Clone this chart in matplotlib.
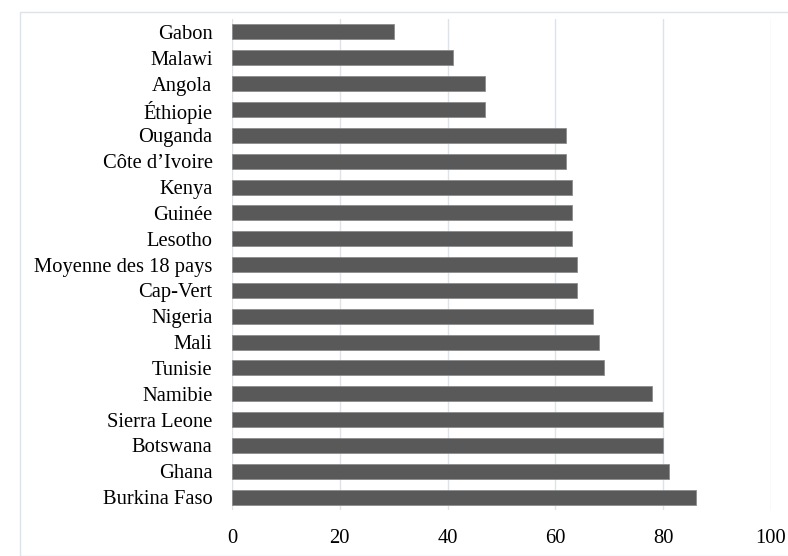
import matplotlib.pyplot as plt
from matplotlib.patches import Rectangle

pays = ["Gabon", "Malawi", "Angola", "Éthiopie", "Ouganda", "Côte d’Ivoire",
        "Kenya", "Guinée", "Lesotho", "Moyenne des 18 pays", "Cap-Vert",
        "Nigeria", "Mali", "Tunisie", "Namibie", "Sierra Leone", "Botswana",
        "Ghana", "Burkina Faso"]
valeurs = [30, 41, 47, 47, 62, 62, 63, 63, 63, 64, 64, 67, 68, 69, 78, 80, 80, 81, 86]
ticks_x = [0, 20, 40, 60, 80, 100]

plt.rcParams['font.family'] = ['Liberation Serif', 'DejaVu Serif']

fig = plt.figure(figsize=(7.88, 5.56), dpi=100)
ax = fig.add_axes([0.2944, 0.0827, 0.684, 0.883])

pos = list(range(len(pays)))
ax.barh(pos, valeurs, height=0.58, color='#595959', edgecolor='#8c8c8c',
        linewidth=0.6, zorder=3)

ax.set_ylim(len(pays) - 0.5, -0.5)
ax.set_xlim(0, 100)
ax.set_yticks(pos)
ax.set_yticklabels(pays)
ax.set_xticks(ticks_x)
ax.tick_params(axis='both', length=0, labelsize=14.8)
ax.tick_params(axis='y', pad=14)
ax.tick_params(axis='x', pad=14)
ax.grid(axis='x', color='#dde3ea', linewidth=1, zorder=0)
for s in ax.spines.values():
    s.set_visible(False)

# light frame around the chart
fig.patches.append(Rectangle((20 / 788, 0.0), 1.0, 1 - 12 / 556,
                             transform=fig.transFigure, fill=False,
                             edgecolor='#dde3ea', linewidth=1))

fig.savefig('out.png', dpi=100)
